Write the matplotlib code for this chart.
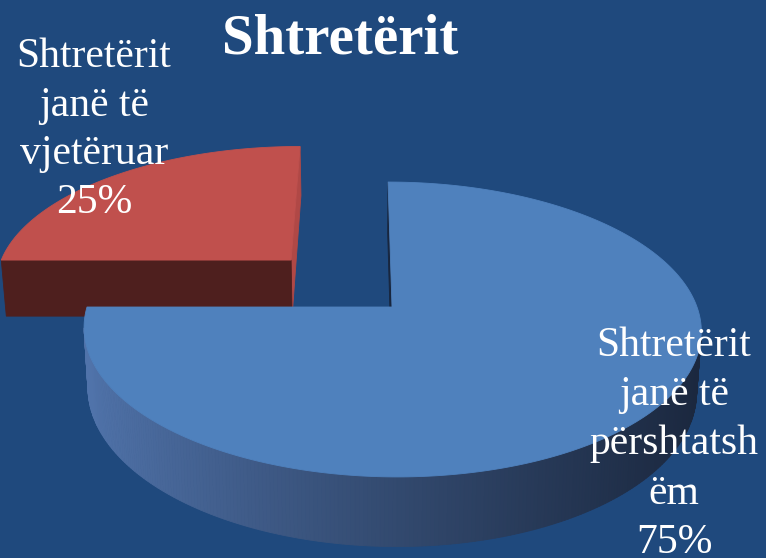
import numpy as np
import matplotlib
matplotlib.use("Agg")
import matplotlib.pyplot as plt
from matplotlib.patches import Polygon

# ---------------- data ----------------
title = "Shtretërit"
categories = ["Shtretërit janë të vjetëruar", "Shtretërit janë të përshtatshëm"]
values = [25, 75]
label_lines = [["Shtretërit", "janë të", "vjetëruar"],
               ["Shtretërit", "janë të", "përshtatsh", "ëm"]]
explode = [0.485, 0.0]
top_colors = ["#C0504D", "#4F81BD"]

# ---------------- style / layout ----------------
BG = "#1F497D"
W, H = 766, 558
START = 90.0
# perspective projection parameters (pixel space)
P = 0.1525      # perspective strength
CX, CY = 392.0, 307.0
VX = 362.0
K = 305.0
B = -97.2
DEPTH = 59.0
Q = 0.014

def proj(X, Y, bottom=False):
    X = np.asarray(X, float); Y = np.asarray(Y, float)
    w = 1 + P * Y
    x = VX + (CX - VX + K * X) / w
    y = (CY + B * Y) / w
    if bottom:
        y = y + DEPTH / w
        x = x + (VX - x) * Q
    return x, y

cam = np.array([(VX - CX) / K, -1.0 / P])

fig = plt.figure(figsize=(W / 100, H / 100), dpi=100)
fig.patch.set_facecolor(BG)
ax = fig.add_axes([0, 0, 1, 1])
ax.set_facecolor(BG)
ax.set_xlim(0, W)
ax.set_ylim(H, 0)
ax.axis("off")

def mix(c1, c2, t):
    c1 = np.array(c1) / 255.0; c2 = np.array(c2) / 255.0
    return tuple(c1 + (c2 - c1) * t)

total = float(sum(values))
slices = []
a = START
for i, v in enumerate(values):
    th1 = a
    th2 = a + 360.0 * v / total
    mid = np.radians((th1 + th2) / 2)
    off = np.array([np.cos(mid), np.sin(mid)]) * explode[i]
    slices.append((i, th1, th2, off))
    a = th2

# far slices first
slices.sort(key=lambda s: -s[3][1])

BLUE_LIGHT = (80, 115, 170)
BLUE_DARK = (27, 40, 63)
WALL_LIT = [(176, 72, 70), (70, 112, 168)]
WALL_DARK = [(78, 31, 30), (24, 38, 62)]

for i, th1, th2, off in slices:
    thetas = np.radians(np.linspace(th1, th2, 400))
    ox, oy = off
    # outer wall
    for j in range(len(thetas) - 1):
        ta, tb = thetas[j], thetas[j + 1]
        tm = (ta + tb) / 2
        n = np.array([np.cos(tm), np.sin(tm)])
        p = n + off
        if np.dot(cam - p, n) <= 0:
            continue
        xa, ya = proj(np.cos(ta) + ox, np.sin(ta) + oy)
        xb, yb = proj(np.cos(tb) + ox, np.sin(tb) + oy)
        xa2, ya2 = proj(np.cos(ta) + ox, np.sin(ta) + oy, True)
        xb2, yb2 = proj(np.cos(tb) + ox, np.sin(tb) + oy, True)
        t = np.clip((float(xa) - 90) / (700 - 90), 0, 1) ** 0.85
        if i == 1:
            col = mix(BLUE_LIGHT, BLUE_DARK, t)
        else:
            col = mix((120, 45, 43), WALL_DARK[0], t)
        ax.add_patch(Polygon([[xa, ya], [xb, yb], [xb2, yb2], [xa2, ya2]],
                             closed=True, facecolor=col, edgecolor=col, lw=0.6))
    # radial walls
    for th, sgn in ((th1, 1), (th2, -1)):
        r = np.radians(th)
        if sgn == 1:
            n = np.array([np.sin(r), -np.cos(r)])
        else:
            n = np.array([-np.sin(r), np.cos(r)])
        p = off + 0.5 * np.array([np.cos(r), np.sin(r)])
        if np.dot(cam - p, n) <= 0:
            continue
        ex, ey = np.cos(r) + ox, np.sin(r) + oy
        x0, y0 = proj(ox, oy); x1, y1 = proj(ex, ey)
        x0b, y0b = proj(ox, oy, True); x1b, y1b = proj(ex, ey, True)
        # light from the right: right-facing walls lit, others in shade
        col = mix(WALL_LIT[i], WALL_LIT[i], 0) if n[0] > 0.5 else mix(WALL_DARK[i], WALL_DARK[i], 0)
        ax.add_patch(Polygon([[x0, y0], [x1, y1], [x1b, y1b], [x0b, y0b]],
                             closed=True, facecolor=col, edgecolor=col, lw=0.6))
    # top face
    xs, ys = proj(np.cos(thetas) + ox, np.sin(thetas) + oy)
    cxp, cyp = proj(ox, oy)
    pts = [[cxp, cyp]] + list(zip(xs, ys))
    ax.add_patch(Polygon(pts, closed=True, facecolor=top_colors[i],
                         edgecolor=top_colors[i], lw=0.6))

# ---------------- texts ----------------
font = "Liberation Serif"
ax.text(340, 53, title, ha="center", va="baseline", color="white",
        fontsize=41, fontweight="bold", family=font)

label_pos = [(94, 67, 48.7), (674, 356, 49.2)]
for i, v in enumerate(values):
    lines = label_lines[i] + [f"{100 * v / total:.0f}%"]
    x0, y0, dy = label_pos[i]
    for k, ln in enumerate(lines):
        ax.text(x0, y0 + k * dy, ln, ha="center", va="baseline", color="white",
                fontsize=30, family=font)

fig.savefig("out.png", dpi=100, facecolor=BG)
